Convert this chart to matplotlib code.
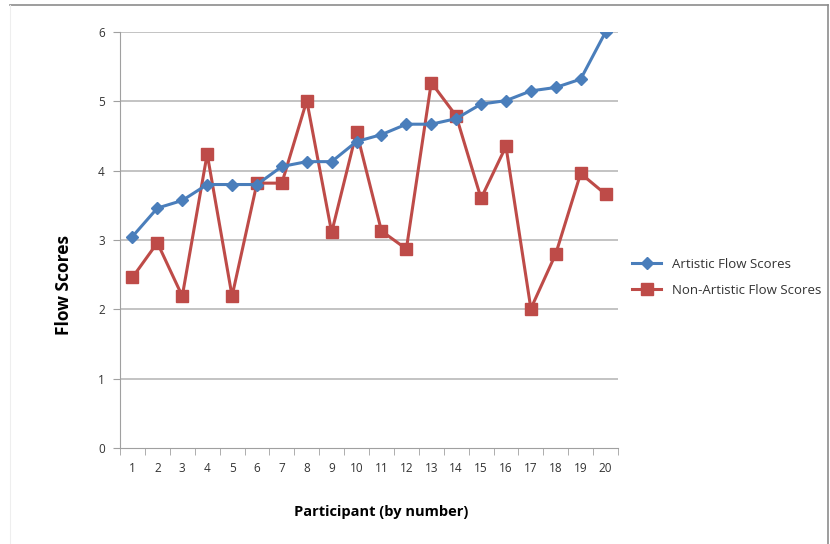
import numpy as np
import matplotlib.pyplot as plt
from matplotlib.lines import Line2D

participants = list(range(1, 21))
artistic = [3.05, 3.46, 3.57, 3.80, 3.80, 3.80, 4.06, 4.13, 4.13, 4.42,
            4.52, 4.67, 4.67, 4.75, 4.96, 5.01, 5.15, 5.20, 5.32, 6.00]
non_artistic = [2.46, 2.96, 2.19, 4.24, 2.19, 3.82, 3.82, 5.01, 3.11, 4.56,
                3.13, 2.87, 5.27, 4.79, 3.60, 4.35, 2.01, 2.80, 3.96, 3.66]

plt.rcParams['font.family'] = ['Open Sans', 'DejaVu Sans']

fig = plt.figure(figsize=(8.3, 5.44), dpi=100)
ax = fig.add_axes([0.1446, 0.1765, 0.6, 0.7647])

grid_col = '#BEBEBE'
ax.set_ylim(0, 6)
ax.set_xlim(0.5, 20.5)
ax.set_yticks(range(0, 7))
for yv in range(1, 7):
    ax.axhline(yv, color=grid_col, lw=1.3, zorder=0)

ax.plot(participants, artistic, color='#4A7EBB', lw=2.2, marker='D',
        markersize=6, label='Artistic Flow Scores', zorder=3)
ax.plot(participants, non_artistic, color='#BE4B48', lw=2.2, marker='s',
        markersize=9, label='Non-Artistic Flow Scores', zorder=2)

for s in ['top', 'right']:
    ax.spines[s].set_visible(False)
ax.spines['left'].set_color('#A0A0A0')
ax.spines['bottom'].set_color('#A0A0A0')

ax.set_xticks(participants)
ax.set_xticklabels([str(p) for p in participants])
ax.set_xticks(np.arange(0.5, 21, 1), minor=True)
ax.tick_params(axis='x', which='major', length=0, pad=10, labelsize=8.5, labelcolor='#333333')
ax.tick_params(axis='x', which='minor', length=5, color='#A0A0A0')
ax.tick_params(axis='y', length=5, color='#A0A0A0', pad=6, labelsize=8.5, labelcolor='#333333')

ax.set_xlabel('Participant (by number)', fontsize=10.5, fontweight='bold')
ax.xaxis.set_label_coords(0.524, -0.137)
ax.set_ylabel('Flow Scores', fontsize=12.5, fontweight='bold')
ax.yaxis.set_label_coords(-0.094, 0.392)

ax.legend(loc='center left', bbox_to_anchor=(1.005, 0.41), frameon=False,
          fontsize=9.5, handlelength=2.2, labelspacing=1.0, labelcolor='#333333')

# chart area border
fig.add_artist(Line2D([10/830, 828/830], [1 - 5/544, 1 - 5/544], transform=fig.transFigure,
                      color='#8C8C8C', lw=1.2))
fig.add_artist(Line2D([828/830, 828/830], [0, 1 - 5/544], transform=fig.transFigure,
                      color='#8C8C8C', lw=1.2))
fig.add_artist(Line2D([10/830, 10/830], [0, 1 - 5/544], transform=fig.transFigure,
                      color='#EEEEEE', lw=0.8))

fig.savefig('out.png', dpi=100)
